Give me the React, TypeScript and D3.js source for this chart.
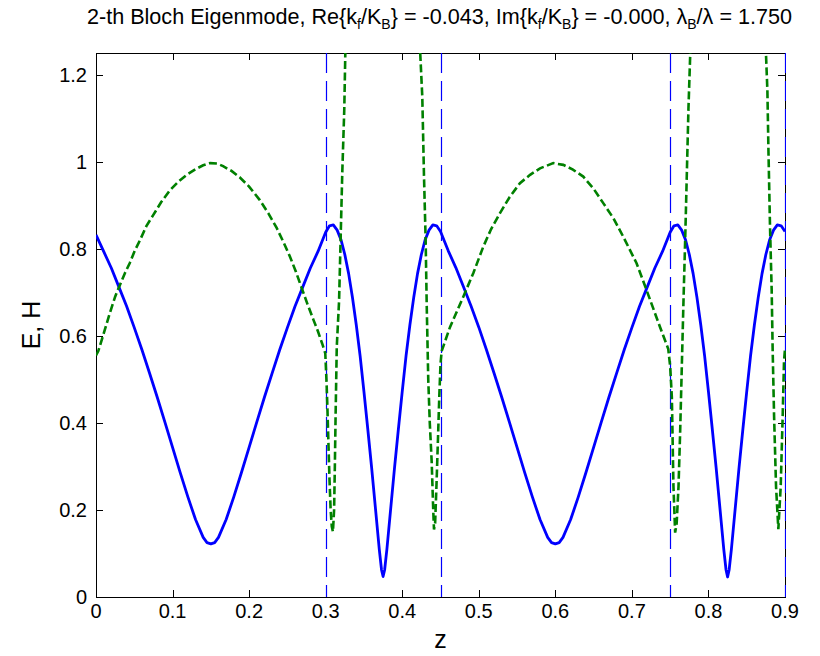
import React from 'react';
import * as d3 from 'd3';

const W = 820;
const H = 656;
const PL = 96, PR = 785, PT = 53, PB = 597;

const xTicks = [0, 0.1, 0.2, 0.3, 0.4, 0.5, 0.6, 0.7, 0.8, 0.9];
const yTicks = [0, 0.2, 0.4, 0.6, 0.8, 1, 1.2];
const xTickLabels = ['0', '0.1', '0.2', '0.3', '0.4', '0.5', '0.6', '0.7', '0.8', '0.9'];
const yTickLabels = ['0', '0.2', '0.4', '0.6', '0.8', '1', '1.2'];
const interfaces = [0.3, 0.45, 0.75, 0.9];

// E field (blue solid)
const eZ = [
  0, 0.01, 0.02, 0.03, 0.04, 0.05, 0.06, 0.07, 0.08, 0.09, 0.1, 0.11, 0.12, 0.13, 0.14,
  0.145, 0.15, 0.155,
  0.16, 0.17, 0.18, 0.19, 0.2, 0.21, 0.22, 0.23, 0.24, 0.25, 0.26, 0.27, 0.28, 0.29,
  0.3, 0.305, 0.31, 0.315, 0.32, 0.325, 0.33, 0.335, 0.34, 0.345, 0.35, 0.355, 0.36, 0.365, 0.37,
  0.373, 0.375, 0.377,
  0.38, 0.385, 0.39, 0.395, 0.4, 0.405, 0.41, 0.415, 0.42, 0.425, 0.43, 0.435, 0.44, 0.445,
  0.45, 0.46, 0.47, 0.48, 0.49, 0.5, 0.51, 0.52, 0.53, 0.54, 0.55, 0.56, 0.57, 0.58, 0.59,
  0.595, 0.6, 0.605,
  0.61, 0.62, 0.63, 0.64, 0.65, 0.66, 0.67, 0.68, 0.69, 0.7, 0.71, 0.72, 0.73, 0.74,
  0.75, 0.755, 0.76, 0.765, 0.77, 0.775, 0.78, 0.785, 0.79, 0.795, 0.8, 0.805, 0.81, 0.815, 0.82,
  0.823, 0.825, 0.827,
  0.83, 0.835, 0.84, 0.845, 0.85, 0.855, 0.86, 0.865, 0.87, 0.875, 0.88, 0.885, 0.89, 0.895, 0.9,
];
const eVal = [
  0.832, 0.794, 0.756, 0.712, 0.668, 0.619, 0.568, 0.514, 0.459, 0.402, 0.344, 0.286, 0.23, 0.178, 0.137,
  0.125, 0.122, 0.125,
  0.137, 0.178, 0.23, 0.286, 0.344, 0.402, 0.459, 0.514, 0.568, 0.619, 0.668, 0.712, 0.756, 0.794,
  0.838, 0.853, 0.855, 0.843, 0.821, 0.787, 0.743, 0.688, 0.625, 0.554, 0.472, 0.386, 0.298, 0.204, 0.11,
  0.062, 0.047, 0.062,
  0.11, 0.204, 0.298, 0.386, 0.472, 0.554, 0.625, 0.688, 0.743, 0.787, 0.821, 0.843, 0.855, 0.853,
  0.84, 0.796, 0.757, 0.713, 0.668, 0.62, 0.568, 0.514, 0.459, 0.402, 0.344, 0.286, 0.23, 0.178, 0.137,
  0.125, 0.122, 0.125,
  0.137, 0.178, 0.23, 0.286, 0.344, 0.402, 0.459, 0.514, 0.568, 0.619, 0.668, 0.712, 0.756, 0.794,
  0.838, 0.853, 0.855, 0.843, 0.821, 0.787, 0.743, 0.688, 0.625, 0.554, 0.472, 0.386, 0.298, 0.204, 0.11,
  0.062, 0.046, 0.062,
  0.11, 0.204, 0.298, 0.386, 0.472, 0.554, 0.625, 0.688, 0.743, 0.787, 0.821, 0.843, 0.855, 0.853, 0.84,
];

// H field (green dashed)
const hZ = [
  0, 0.003, 0.01, 0.018, 0.025, 0.031, 0.038, 0.044, 0.0505, 0.0575, 0.066, 0.0749, 0.085, 0.0967, 0.108,
  0.1185, 0.13, 0.14, 0.149, 0.158, 0.166, 0.177, 0.188, 0.2, 0.214, 0.225, 0.236, 0.245, 0.2534, 0.261,
  0.2687, 0.276, 0.2838, 0.29, 0.2955, 0.2995,
  0.301, 0.302, 0.3035, 0.305, 0.3065, 0.308, 0.3095, 0.311, 0.312, 0.313, 0.3145, 0.3175, 0.3195,
  0.3217, 0.3243, 0.3262, 0.329, 0.421, 0.4235, 0.4262, 0.4284, 0.4306, 0.432, 0.434, 0.436, 0.4385,
  0.4405, 0.4415, 0.443, 0.445, 0.447, 0.4484, 0.45,
  0.4515, 0.4624, 0.4798, 0.4928, 0.5059, 0.516, 0.5277, 0.54, 0.5538, 0.567, 0.58, 0.5973, 0.6104,
  0.623, 0.6365, 0.65, 0.6626, 0.676, 0.6887, 0.7061, 0.7192, 0.7366, 0.7475,
  0.75, 0.7522, 0.7543, 0.7565, 0.7585, 0.7609, 0.763, 0.7652, 0.7674, 0.7696, 0.7717, 0.7739, 0.7761,
  0.779, 0.8725, 0.8752, 0.877, 0.8783, 0.8804, 0.8826, 0.8839, 0.8857, 0.8883, 0.8913, 0.8944, 0.897,
  0.8987, 0.9,
];
const hVal = [
  0.555, 0.565, 0.605, 0.652, 0.69, 0.716, 0.745, 0.767, 0.795, 0.82, 0.853, 0.878, 0.907, 0.935, 0.955,
  0.97, 0.983, 0.992, 0.997, 0.996, 0.99, 0.979, 0.964, 0.943, 0.912, 0.882, 0.848, 0.815, 0.782, 0.748,
  0.71, 0.674, 0.638, 0.61, 0.582, 0.56,
  0.5, 0.45, 0.36, 0.27, 0.2, 0.162, 0.15, 0.2, 0.3, 0.42, 0.575, 0.68, 0.82,
  0.975, 1.12, 1.3, 1.6, 1.6, 1.25, 1.15, 0.97, 0.82, 0.67, 0.5, 0.4, 0.31,
  0.2, 0.155, 0.17, 0.27, 0.38, 0.46, 0.535,
  0.565, 0.62, 0.69, 0.744, 0.805, 0.845, 0.882, 0.918, 0.951, 0.97, 0.985, 0.997, 0.993,
  0.982, 0.966, 0.938, 0.905, 0.87, 0.828, 0.767, 0.705, 0.621, 0.57,
  0.53, 0.459, 0.254, 0.148, 0.17, 0.254, 0.377, 0.529, 0.68, 0.82, 0.968, 1.123, 1.242,
  1.6, 1.6, 1.246, 1.164, 1.033, 0.853, 0.705, 0.566, 0.418, 0.254, 0.156, 0.254, 0.418,
  0.541, 0.57,
];

const FONT = "'Liberation Sans', Arial, Helvetica, sans-serif";

export default function App() {
  const x = d3.scaleLinear().domain([0, 0.9]).range([PL, PR]);
  const y = d3.scaleLinear().domain([0, 1.25]).range([PB, PT]);

  const eData: [number, number][] = eZ.map((z, i) => [z, eVal[i]]);
  const hData: [number, number][] = hZ.map((z, i) => [z, hVal[i]]);
  const line = d3
    .line<[number, number]>()
    .x((d) => x(d[0]))
    .y((d) => y(d[1]));

  const tickLen = 7;
  const subSize = 14;

  return (
    <div style={{ position: 'fixed', left: 0, top: 0, width: W, height: H, background: '#fff' }}>
      <svg width={W} height={H} viewBox={`0 0 ${W} ${H}`} style={{ display: 'block' }}>
        <defs>
          <clipPath id="plotClip">
            <rect x={PL} y={PT} width={PR - PL + 1} height={PB - PT} />
          </clipPath>
        </defs>
        <rect x={0} y={0} width={W} height={H} fill="#fff" />

        {/* title */}
        <text x={(PL + PR) / 2 - 1} y={24} textAnchor="middle" fontFamily={FONT} fontSize={21.6} fill="#000">
          <tspan>2-th Bloch Eigenmode, Re{'{'}k</tspan>
          <tspan fontSize={subSize} dy={5}>f</tspan>
          <tspan dy={-5}>/K</tspan>
          <tspan fontSize={subSize} dy={5}>B</tspan>
          <tspan dy={-5}>{'}'} = -0.043, Im{'{'}k</tspan>
          <tspan fontSize={subSize} dy={5}>f</tspan>
          <tspan dy={-5}>/K</tspan>
          <tspan fontSize={subSize} dy={5}>B</tspan>
          <tspan dy={-5}>{'}'} = -0.000, λ</tspan>
          <tspan fontSize={subSize} dy={5}>B</tspan>
          <tspan dy={-5}>/λ = 1.750</tspan>
        </text>

        {/* axes box */}
        <rect x={PL + 0.5} y={PT + 0.5} width={PR - PL} height={PB - PT} fill="none" stroke="#000" strokeWidth={1} />
        {xTicks.map((t) => (
          <g key={'xt' + t}>
            <line x1={Math.round(x(t)) + 0.5} x2={Math.round(x(t)) + 0.5} y1={PB} y2={PB - tickLen} stroke="#000" />
            <line x1={Math.round(x(t)) + 0.5} x2={Math.round(x(t)) + 0.5} y1={PT} y2={PT + tickLen} stroke="#000" />
          </g>
        ))}
        {yTicks.map((t) => (
          <g key={'yt' + t}>
            <line x1={PL} x2={PL + tickLen} y1={Math.round(y(t)) + 0.5} y2={Math.round(y(t)) + 0.5} stroke="#000" />
            <line x1={PR} x2={PR - tickLen} y1={Math.round(y(t)) + 0.5} y2={Math.round(y(t)) + 0.5} stroke="#000" />
          </g>
        ))}
        {xTicks.map((t, i) => (
          <text key={'xl' + t} x={x(t)} y={PB + 21} textAnchor="middle" fontFamily={FONT} fontSize={20} fill="#000">
            {xTickLabels[i]}
          </text>
        ))}
        {yTicks.map((t, i) => (
          <text key={'yl' + t} x={PL - 9} y={y(t) + 7} textAnchor="end" fontFamily={FONT} fontSize={20} fill="#000">
            {yTickLabels[i]}
          </text>
        ))}

        {/* axis labels */}
        <text x={(PL + PR) / 2} y={648} textAnchor="middle" fontFamily={FONT} fontSize={25} fill="#000">
          z
        </text>
        <text
          transform={`translate(40, ${(PT + PB) / 2}) rotate(-90)`}
          textAnchor="middle"
          fontFamily={FONT}
          fontSize={25}
          fill="#000"
        >
          E, H
        </text>

        {/* data */}
        <g clipPath="url(#plotClip)">
          {interfaces.map((z) => (
            <line
              key={'if' + z}
              x1={Math.round(x(z)) + 0.5}
              x2={Math.round(x(z)) + 0.5}
              y1={PT}
              y2={PB}
              stroke="#0000ff"
              strokeWidth={1.2}
              strokeDasharray="20,8"
            />
          ))}
          <path d={line(eData) || ''} fill="none" stroke="#0000ff" strokeWidth={2.8} strokeLinejoin="round" />
          <path
            d={line(hData) || ''}
            fill="none"
            stroke="#008000"
            strokeWidth={2.6}
            strokeDasharray="8,3.5"
          />
        </g>
      </svg>
    </div>
  );
}
